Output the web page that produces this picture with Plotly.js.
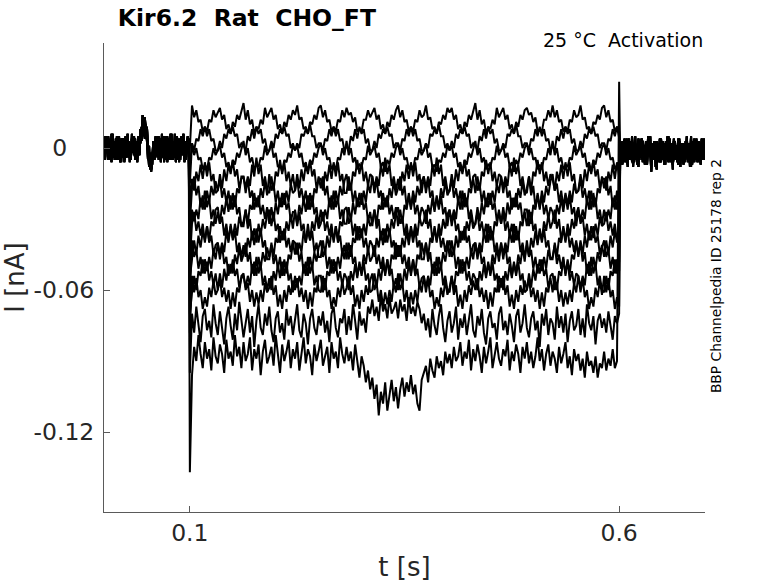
<!DOCTYPE html>
<html>
<head>
<meta charset="utf-8">
<script src="https://cdn.plot.ly/plotly-3.0.1.min.js"></script>
<style>
  body { margin: 0; background: #fff; }
  #plot { width: 778px; height: 583px; }
</style>
</head>
<body>
<div id="plot"></div>
<script>
// current values, in pA (divided by 1000 for nA)
// baseline before the step, one sample every 1.25 ms from 0 s
var preA = [3,-4,5,-2,4,-5,2,-3,6,-4, 1,-5,4,-2,5,-6,3,-1,4,-5, 2,-4,6,-3,1,-5,4,-2,5,-4,
  3,-6,2,-3,8,4,14,7,12,5, 9,-3,-8,-2,-9,-4,3,-5,4,-2, 5,-4,2,-6,3,-1,5,-5,2,-3,
  4,-5,6,-2,3,-4,1,-6,5,-3, 2,-5,4,-1,6,-4,3,-2,5,-4];
var preB = [-3,5,-1,4,-5,3,-2,6,-4,2, -5,4,-1,5,-3,2,-6,4,-2,3, -4,5,-2,3,-6,2,-1,5,-3,4,
  -5,2,-3,4,2,9,6,11,4,10, 3,-5,1,-9,-3,-7,2,-4,5,-3, 1,-5,4,-2,6,-4,2,-3,5,-6,
  3,-2,4,-5,1,-3,6,-4,2,-5, 4,-1,5,-3,2,-6,3,-2,4,-3];
var preC = [1,-5,3,-2,5,-4,0,-6,4,-1, 3,-3,5,-5,2,-2,4,-4,1,-6, 5,-2,3,-4,2,-5,6,-1,3,-5,
  1,-4,5,-2,6,3,10,5,13,8, 6,1,-6,-4,-10,-2,-5,3,-4,2, -3,5,-5,1,-2,4,-6,3,-1,5,
  -4,2,-3,6,-5,1,-2,4,-4,3, -6,2,-1,5,-3,3,-5,1,-2,4];

// tail after the step, one sample every 1.25 ms from 0.60125 s
var postA = [-1,-5,3,-6,2,-4,4,-7,1,-3, 3,-6,0,-2,5,-5,-1,-8,2,-3, 4,-6,1,-4,3,-7,-1,-2,5,-5,
  0,-4,2,-8,3,-3,1,-6,4,-2, -5,2,-7,1,-3,5,-4,-1,2,-9, 3,-4,1,-6,4,-2,-5,2,-3,-7,
  1,-4,5,-3,0,-8,2,-4,3,-6, -1,4,-5,1,-3,-7,2,-2,4,-5];
var postB = [-4,2,-7,3,-2,-6,1,-3,4,-5, -1,3,-8,2,-4,0,-6,4,-3,1, -5,3,-2,-7,2,-4,5,-3,-1,-6,
  2,-5,3,-2,-9,1,-4,4,-6,0, -3,2,-5,3,-1,-6,4,-4,1,-7, -2,3,-5,0,-3,4,-8,2,-4,1,
  -6,3,-2,-5,2,-4,5,-7,-1,2, -4,1,-6,3,-3,-1,4,-5,0,-3];
var postC = [2,-6,0,-3,4,-5,1,-8,3,-2, -4,5,-1,-6,2,-3,-7,3,-1,-4, 4,-5,1,-3,-6,2,-2,5,-4,-10,
  1,-3,3,-5,-1,2,-6,4,-2,-4, 3,-7,0,-2,5,-4,-1,-6,2,-3, 4,-5,-2,1,-7,3,-3,0,-5,2,
  -4,-1,3,-6,1,-2,-8,2,-3,4, -5,0,-3,3,-6,1,-2,-4,3,-3];

// step from 0.1 s to 0.6 s, one sample every 2.5 ms
var s1 = [0,
  18,13,16,11,12,7,9,7,12,11,16,13, 15,17,12,14,8,10,6,11,9,14,12,16,
  19,12,16,10,12,6,9,8,12,10,17,13, 15,17,12,14,8,10,6,11,9,14,12,16,
  14,18,12,13,8,9,6,11,10,14,12,17, 18,13,16,11,12,7,9,7,12,11,16,13,
  17,14,15,11,13,7,8,7,12,12,16,13, 15,17,12,14,8,10,6,11,9,14,12,16,
  18,13,16,11,12,7,9,7,12,11,16,13, 14,18,12,13,8,9,6,11,10,14,12,17,
  15,17,12,14,8,10,6,11,9,14,12,16, 19,12,16,10,12,6,9,8,12,10,17,13,
  15,17,12,14,8,10,6,11,9,14,12,16, 17,14,15,11,13,7,8,7,12,12,16,13,
  18,13,16,11,12,7,9,7,12,11,16,13, 14,18,12,13,8,9,6,11,10,14,12,17,
  18,13,16,11,12,7,9,7];
var s2 = [-8,
  2,-1,4,3,8,5,9,5,8,3,4,-1, -1,3,0,6,4,8,6,9,5,6,0,2,
  1,-1,5,3,8,4,9,6,8,2,4,-1, -1,3,0,6,4,8,6,9,5,6,0,2,
  -1,2,0,6,5,8,6,10,5,5,0,2, 2,-1,4,3,8,5,9,5,8,3,4,-1,
  1,-1,5,3,8,4,9,6,8,2,4,-1, -1,3,0,6,4,8,6,9,5,6,0,2,
  2,-1,4,3,8,5,9,5,8,3,4,-1, -1,2,0,6,5,8,6,10,5,5,0,2,
  -1,3,0,6,4,8,6,9,5,6,0,2, 1,-1,5,3,8,4,9,6,8,2,4,-1,
  -1,2,0,6,5,8,6,10,5,5,0,2, 2,-1,4,3,8,5,9,5,8,3,4,-1,
  1,-1,5,3,8,4,9,6,8,2,4,-1, -1,3,0,6,4,8,6,9,5,6,0,2,
  2,-1,4,3,8,5,9,5];
var s3 = [-15,
  2,-3,0,-5,-4,-9,-7,-9,-4,-5,0,-3, -1,1,-4,-2,-8,-6,-10,-5,-7,-2,-4,0,
  3,-3,0,-6,-4,-9,-7,-8,-4,-5,1,-3, -1,2,-4,-2,-8,-7,-10,-5,-6,-2,-4,1,
  -1,1,-4,-2,-8,-6,-10,-5,-7,-2,-4,0, 2,-3,0,-5,-4,-9,-7,-9,-4,-5,0,-3,
  3,-3,0,-6,-4,-9,-7,-8,-4,-5,1,-3, -1,1,-4,-2,-8,-6,-10,-5,-7,-2,-4,0,
  2,-3,0,-5,-4,-9,-7,-9,-4,-5,0,-3, -1,2,-4,-2,-8,-7,-10,-5,-6,-2,-4,1,
  -1,1,-4,-2,-8,-6,-10,-5,-7,-2,-4,0, 3,-3,0,-6,-4,-9,-7,-8,-4,-5,1,-3,
  -1,1,-4,-2,-8,-6,-10,-5,-7,-2,-4,0, 2,-3,0,-5,-4,-9,-7,-9,-4,-5,0,-3,
  3,-3,0,-6,-4,-9,-7,-8,-4,-5,1,-3, -1,1,-4,-2,-8,-6,-10,-5,-7,-2,-4,0,
  2,-3,0,-5,-4,-9,-7,-9];
var s4 = [-25,
  -13,-18,-10,-14,-7,-13,-6,-12,-6,-14,-11,-19, -18,-11,-17,-9,-14,-7,-11,-5,-12,-9,-17,-13,
  -12,-17,-12,-16,-7,-12,-4,-11,-7,-16,-12,-18, -19,-12,-18,-10,-12,-5,-11,-6,-14,-10,-16,-11,
  -18,-11,-17,-9,-14,-7,-11,-5,-12,-9,-17,-13, -13,-18,-10,-14,-7,-13,-6,-12,-6,-14,-11,-19,
  -19,-12,-18,-10,-12,-5,-11,-6,-14,-10,-16,-11, -12,-17,-12,-16,-7,-12,-4,-11,-7,-16,-12,-18,
  -13,-18,-10,-14,-7,-13,-6,-12,-6,-14,-11,-19, -12,-17,-12,-16,-7,-12,-4,-11,-7,-16,-12,-18,
  -18,-11,-17,-9,-14,-7,-11,-5,-12,-9,-17,-13, -19,-12,-18,-10,-12,-5,-11,-6,-14,-10,-16,-11,
  -12,-17,-12,-16,-7,-12,-4,-11,-7,-16,-12,-18, -19,-12,-18,-10,-12,-5,-11,-6,-14,-10,-16,-11,
  -13,-18,-10,-14,-7,-13,-6,-12,-6,-14,-11,-19, -18,-11,-17,-9,-14,-7,-11,-5,-12,-9,-17,-13,
  -13,-18,-10,-14,-7,-13,-6,-12];
var s5 = [-32,
  -17,-12,-20,-16,-25,-20,-26,-18,-23,-16,-20,-14, -18,-13,-21,-17,-23,-18,-26,-19,-25,-17,-19,-12,
  -12,-19,-13,-21,-18,-26,-21,-25,-17,-21,-14,-20, -11,-18,-15,-23,-18,-25,-19,-24,-18,-23,-15,-19,
  -18,-13,-21,-17,-23,-18,-26,-19,-25,-17,-19,-12, -17,-12,-20,-16,-25,-20,-26,-18,-23,-16,-20,-14,
  -11,-18,-15,-23,-18,-25,-19,-24,-18,-23,-15,-19, -12,-19,-13,-21,-18,-26,-21,-25,-17,-21,-14,-20,
  -17,-12,-20,-16,-25,-20,-26,-18,-23,-16,-20,-14, -12,-19,-13,-21,-18,-26,-21,-25,-17,-21,-14,-20,
  -18,-13,-21,-17,-23,-18,-26,-19,-25,-17,-19,-12, -11,-18,-15,-23,-18,-25,-19,-24,-18,-23,-15,-19,
  -12,-19,-13,-21,-18,-26,-21,-25,-17,-21,-14,-20, -17,-12,-20,-16,-25,-20,-26,-18,-23,-16,-20,-14,
  -11,-18,-15,-23,-18,-25,-19,-24,-18,-23,-15,-19, -18,-13,-21,-17,-23,-18,-26,-19,-25,-17,-19,-12,
  -17,-12,-20,-16,-25,-20,-26,-18];
var s6 = [-40,
  -26,-31,-26,-30,-21,-26,-18,-25,-21,-30,-26,-32, -27,-32,-24,-28,-21,-27,-20,-26,-20,-28,-25,-33,
  -33,-26,-32,-24,-26,-19,-25,-20,-28,-24,-30,-25, -32,-25,-31,-23,-28,-21,-25,-19,-26,-23,-31,-27,
  -27,-32,-24,-28,-21,-27,-20,-26,-20,-28,-25,-33, -26,-31,-26,-30,-21,-26,-18,-25,-21,-30,-26,-32,
  -32,-25,-31,-23,-28,-21,-25,-19,-26,-23,-31,-27, -33,-26,-32,-24,-26,-19,-25,-20,-28,-24,-30,-25,
  -33,-26,-32,-24,-26,-19,-25,-20,-28,-24,-30,-25, -27,-32,-24,-28,-21,-27,-20,-26,-20,-28,-25,-33,
  -26,-31,-26,-30,-21,-26,-18,-25,-21,-30,-26,-32, -32,-25,-31,-23,-28,-21,-25,-19,-26,-23,-31,-27,
  -32,-25,-31,-23,-28,-21,-25,-19,-26,-23,-31,-27, -33,-26,-32,-24,-26,-19,-25,-20,-28,-24,-30,-25,
  -27,-32,-24,-28,-21,-27,-20,-26,-20,-28,-25,-33, -26,-31,-26,-30,-21,-26,-18,-25,-21,-30,-26,-32,
  -26,-31,-26,-30,-21,-26,-18,-25];
var s7 = [-48,
  -32,-27,-35,-31,-37,-32,-40,-33,-39,-31,-33,-26, -25,-32,-29,-37,-32,-39,-33,-38,-32,-37,-29,-33,
  -31,-26,-34,-30,-39,-34,-40,-32,-37,-30,-34,-28, -26,-33,-27,-35,-32,-40,-35,-39,-31,-35,-28,-34,
  -26,-33,-27,-35,-32,-40,-35,-39,-31,-35,-28,-34, -32,-27,-35,-31,-37,-32,-40,-33,-39,-31,-33,-26,
  -25,-32,-29,-37,-32,-39,-33,-38,-32,-37,-29,-33, -31,-26,-34,-30,-39,-34,-40,-32,-37,-30,-34,-28,
  -25,-32,-29,-37,-32,-39,-33,-38,-32,-37,-29,-33, -31,-26,-34,-30,-39,-34,-40,-32,-37,-30,-34,-28,
  -26,-33,-27,-35,-32,-40,-35,-39,-31,-35,-28,-34, -32,-27,-35,-31,-37,-32,-40,-33,-39,-31,-33,-26,
  -32,-27,-35,-31,-37,-32,-40,-33,-39,-31,-33,-26, -26,-33,-27,-35,-32,-40,-35,-39,-31,-35,-28,-34,
  -31,-26,-34,-30,-39,-34,-40,-32,-37,-30,-34,-28, -25,-32,-29,-37,-32,-39,-33,-38,-32,-37,-29,-33,
  -32,-27,-35,-31,-37,-32,-40,-33];
var s8 = [-55,
  -46,-39,-45,-37,-42,-35,-39,-33,-40,-37,-45,-41, -40,-45,-40,-44,-35,-40,-32,-39,-35,-44,-40,-46,
  -41,-46,-38,-42,-35,-41,-34,-40,-34,-42,-39,-47, -47,-40,-46,-38,-40,-33,-39,-34,-42,-38,-44,-39,
  -40,-45,-40,-44,-35,-40,-32,-39,-35,-44,-40,-46, -46,-39,-45,-37,-42,-35,-39,-33,-40,-37,-45,-41,
  -47,-40,-46,-38,-40,-33,-39,-34,-42,-38,-44,-39, -41,-46,-38,-42,-35,-41,-34,-40,-34,-42,-39,-47,
  -41,-46,-38,-42,-35,-41,-34,-40,-34,-42,-39,-47, -47,-40,-46,-38,-40,-33,-39,-34,-42,-38,-44,-39,
  -46,-39,-45,-37,-42,-35,-39,-33,-40,-37,-45,-41, -40,-45,-40,-44,-35,-40,-32,-39,-35,-44,-40,-46,
  -40,-45,-40,-44,-35,-40,-32,-39,-35,-44,-40,-46, -41,-46,-38,-42,-35,-41,-34,-40,-34,-42,-39,-47,
  -47,-40,-46,-38,-40,-33,-39,-34,-42,-38,-44,-39, -46,-39,-45,-37,-42,-35,-39,-33,-40,-37,-45,-41,
  -46,-39,-45,-37,-42,-35,-39,-33];
var s9 = [-62,
  -39,-46,-43,-51,-46,-53,-47,-52,-46,-51,-43,-47, -40,-47,-41,-49,-46,-54,-49,-53,-45,-49,-42,-48,
  -45,-40,-48,-44,-53,-48,-54,-46,-51,-44,-48,-42, -46,-41,-49,-45,-51,-46,-54,-47,-53,-45,-47,-40,
  -45,-40,-48,-44,-53,-48,-54,-46,-51,-44,-48,-42, -39,-46,-43,-51,-46,-53,-47,-52,-46,-51,-43,-47,
  -40,-47,-41,-49,-46,-54,-49,-53,-45,-49,-42,-48, -46,-41,-49,-45,-51,-46,-54,-47,-53,-45,-47,-40,
  -46,-41,-49,-45,-51,-46,-54,-47,-53,-45,-47,-40, -45,-40,-48,-44,-53,-48,-54,-46,-51,-44,-48,-42,
  -39,-46,-43,-51,-46,-53,-47,-52,-46,-51,-43,-47, -40,-47,-41,-49,-46,-54,-49,-53,-45,-49,-42,-48,
  -40,-47,-41,-49,-46,-54,-49,-53,-45,-49,-42,-48, -39,-46,-43,-51,-46,-53,-47,-52,-46,-51,-43,-47,
  -46,-41,-49,-45,-51,-46,-54,-47,-53,-45,-47,-40, -45,-40,-48,-44,-53,-48,-54,-46,-51,-44,-48,-42,
  -39,-46,-43,-51,-46,-53,-47,-52];
var s10 = [-70,
  -61,-54,-60,-52,-54,-47,-53,-48,-56,-52,-58,-53, -60,-53,-59,-51,-56,-49,-53,-47,-54,-51,-59,-55,
  -54,-59,-54,-58,-49,-54,-46,-53,-49,-58,-54,-60, -55,-60,-52,-56,-49,-55,-48,-54,-48,-56,-53,-61,
  -54,-59,-54,-58,-49,-54,-46,-53,-49,-58,-54,-60, -61,-54,-60,-52,-54,-47,-53,-48,-56,-52,-58,-53,
  -55,-60,-52,-56,-49,-55,-48,-54,-48,-56,-53,-61, -60,-53,-59,-51,-56,-49,-53,-47,-54,-51,-59,-55,
  -60,-53,-59,-51,-56,-49,-53,-47,-54,-51,-59,-55, -54,-59,-54,-58,-49,-54,-46,-53,-49,-58,-54,-60,
  -61,-54,-60,-52,-54,-47,-53,-48,-56,-52,-58,-53, -55,-60,-52,-56,-49,-55,-48,-54,-48,-56,-53,-61,
  -55,-60,-52,-56,-49,-55,-48,-54,-48,-56,-53,-61, -60,-53,-59,-51,-56,-49,-53,-47,-54,-51,-59,-55,
  -61,-54,-60,-52,-54,-47,-53,-48,-56,-52,-58,-53, -54,-59,-54,-58,-49,-54,-46,-53,-49,-58,-54,-60,
  -61,-54,-60,-52,-54,-47,-53,-48];
var s11 = [-78,
  -54,-61,-55,-63,-60,-68,-63,-67,-59,-63,-56,-62, -60,-55,-63,-59,-65,-60,-68,-61,-67,-59,-61,-54,
  -53,-60,-57,-65,-60,-67,-61,-66,-60,-65,-57,-61, -59,-54,-62,-58,-67,-62,-68,-60,-65,-58,-62,-56,
  -60,-55,-63,-59,-65,-60,-68,-61,-67,-59,-61,-54, -54,-61,-55,-63,-60,-68,-63,-67,-59,-63,-56,-62,
  -59,-54,-62,-58,-67,-62,-68,-60,-65,-58,-62,-56, -53,-60,-57,-65,-60,-67,-61,-66,-60,-65,-57,-61,
  -53,-60,-57,-65,-60,-67,-61,-66,-60,-65,-57,-61, -54,-61,-55,-63,-60,-68,-63,-67,-59,-63,-56,-62,
  -59,-54,-62,-58,-67,-62,-68,-60,-65,-58,-62,-56, -60,-55,-63,-59,-65,-60,-68,-61,-67,-59,-61,-54,
  -59,-54,-62,-58,-67,-62,-68,-60,-65,-58,-62,-56, -60,-55,-63,-59,-65,-60,-68,-61,-67,-59,-61,-54,
  -53,-60,-57,-65,-60,-67,-61,-66,-60,-65,-57,-61, -54,-61,-55,-63,-60,-68,-63,-67,-59,-63,-56,-62,
  -54,-61,-55,-63,-60,-68,-63,-67];
var s12 = [-95,
  -70,-78,-67,-75,-82,-71,-68,-77,-73,-80,-66,-74, -79,-69,-76,-83,-72,-67,-75,-81,-70,-77,-65,-73,
  -80,-74,-68,-78,-71,-84,-73,-66,-76,-79,-70,-75, -67,-77,-82,-72,-69,-78,-74,-81,-68,-75,-71,-79,
  -73,-66,-77,-80,-70,-74,-83,-72,-68,-76,-79,-71, -75,-69,-78,-73,-82,-70,-67,-76,-80,-72,-74,-68,
  -79,-71,-77,-66,-73,-81,-69,-75,-72,-78,-67,-70, -64,-71,-67,-73,-62,-69,-66,-72,-63,-70,-68,-65,
  -72,-64,-69,-66,-73,-63,-70,-67,-71,-65,-68,-74, -70,-77,-72,-80,-68,-75,-79,-71,-66,-76,-82,-73,
  -69,-78,-74,-67,-81,-72,-76,-70,-79,-73,-66,-77, -80,-71,-75,-68,-78,-83,-72,-69,-76,-74,-81,-70,
  -67,-77,-73,-79,-70,-75,-82,-71,-68,-78,-74,-66, -76,-80,-72,-69,-77,-73,-84,-70,-75,-68,-79,-72,
  -74,-81,-67,-76,-71,-78,-70,-82,-73,-69,-77,-75, -68,-79,-72,-80,-66,-74,-77,-71,-83,-73,-70,-76,
  -72,-78,-69,-75,-81,-71,-74,-70];
var s13 = [-137,
  -96,-84,-90,-79,-87,-93,-82,-89,-85,-94,-80,-88, -91,-83,-87,-95,-81,-89,-86,-92,-79,-88,-84,-93,
  -82,-90,-87,-80,-94,-85,-89,-83,-96,-86,-81,-91, -88,-84,-92,-79,-87,-95,-83,-90,-86,-81,-93,-85,
  -89,-82,-94,-87,-80,-91,-85,-88,-96,-83,-90,-86, -81,-92,-88,-84,-95,-82,-89,-86,-93,-80,-87,-91,
  -84,-90,-86,-94,-83,-89,-97,-88,-92,-99,-94,-102, -97,-106,-100,-113,-103,-108,-99,-111,-104,-98,-107,-101,
  -110,-102,-97,-105,-99,-103,-96,-104,-100,-108,-111,-98, -95,-92,-99,-89,-94,-97,-88,-93,-90,-96,-86,-91,
  -87,-93,-84,-90,-88,-82,-92,-86,-89,-81,-94,-85, -90,-83,-88,-95,-84,-91,-86,-80,-93,-87,-82,-89,
  -92,-85,-88,-81,-94,-86,-90,-83,-87,-95,-84,-89, -82,-91,-86,-93,-88,-80,-90,-85,-94,-87,-83,-92,
  -86,-89,-95,-84,-91,-87,-82,-93,-88,-96,-85,-90, -87,-94,-89,-97,-86,-92,-90,-95,-88,-97,-91,-93,
  -86,-94,-89,-92,-85,-93,-90,28];

var sweeps = [s1, s2, s3, s4, s5, s6, s7, s8, s9, s10, s11, s12, s13];
var baselines = [preA, preB, preC];
var tails = [postA, postB, postC];

var xTickVals = [0.1, 0.6];
var xTickText = ["0.1", "0.6"];
var yTickVals = [0, -0.06, -0.12];
var yTickText = ["0\u00a0\u00a0\u00a0\u2009", "-0.06", "-0.12"];

// sample times
var dtBase = 0.00125, dtStep = 0.0025;
var tPre = preA.map(function (v, i) { return i * dtBase; });
var tStep = s1.map(function (v, i) { return 0.1 + i * dtStep; });
var tPost = postA.map(function (v, i) { return 0.6 + (i + 1) * dtBase; });

var traces = sweeps.map(function (step, k) {
  var pA = baselines[k % 3].concat(step, tails[(k + 1) % 3]);
  return {
    type: "scatter",
    mode: "lines",
    x: tPre.concat(tStep, tPost),
    y: pA.map(function (v) { return v / 1000; }),
    line: { color: "#000000", width: 2 },
    hoverinfo: "skip"
  };
});

var font = "DejaVu Sans, Arial, sans-serif";
var axisGrey = "#5a5a5a";

var layout = {
  width: 778,
  height: 583,
  margin: { l: 104, r: 73, t: 43, b: 71 },
  paper_bgcolor: "#ffffff",
  plot_bgcolor: "#ffffff",
  showlegend: false,
  hovermode: false,
  font: { family: font, color: "#262626" },
  title: {
    text: "<b>Kir6.2\u00a0\u00a0Rat\u00a0\u00a0CHO_FT</b>",
    font: { family: font, size: 23.5, color: "#000000" },
    xref: "paper", x: 0.023, xanchor: "left",
    yref: "container", y: 0.969, yanchor: "middle"
  },
  xaxis: {
    range: [0, 0.7],
    tickvals: xTickVals,
    ticktext: xTickText,
    ticks: "inside",
    ticklen: 6,
    tickcolor: axisGrey,
    showline: true,
    linecolor: axisGrey,
    linewidth: 1,
    showgrid: false,
    zeroline: false,
    tickfont: { family: font, size: 23.5, color: "#262626" },
    title: { text: "t [s]", font: { family: font, size: 26, color: "#262626" }, standoff: 11 }
  },
  yaxis: {
    range: [-0.1538, 0.0444],
    tickvals: yTickVals,
    ticktext: yTickText,
    ticks: "inside",
    ticklen: 6,
    tickcolor: axisGrey,
    showline: true,
    linecolor: axisGrey,
    linewidth: 1,
    showgrid: false,
    zeroline: false,
    ticklabelstandoff: 4,
    tickfont: { family: font, size: 23.5, color: "#262626" },
    title: { text: "I [nA]", font: { family: font, size: 26, color: "#262626" }, standoff: 8 }
  },
  annotations: [
    {
      text: "25 \u00b0C\u00a0\u00a0Activation",
      xref: "paper", yref: "paper",
      x: 1.0, y: 1.006,
      xanchor: "right", yanchor: "middle",
      showarrow: false,
      font: { family: font, size: 19, color: "#000000" }
    },
    {
      text: "BBP Channelpedia ID 25178 rep 2",
      xref: "paper", yref: "paper",
      x: 1.0183, y: 0.503,
      xanchor: "center", yanchor: "middle",
      textangle: -90,
      showarrow: false,
      font: { family: font, size: 13.8, color: "#000000" }
    }
  ]
};

Plotly.newPlot("plot", traces, layout, { displayModeBar: false, staticPlot: true });
</script>
</body>
</html>
